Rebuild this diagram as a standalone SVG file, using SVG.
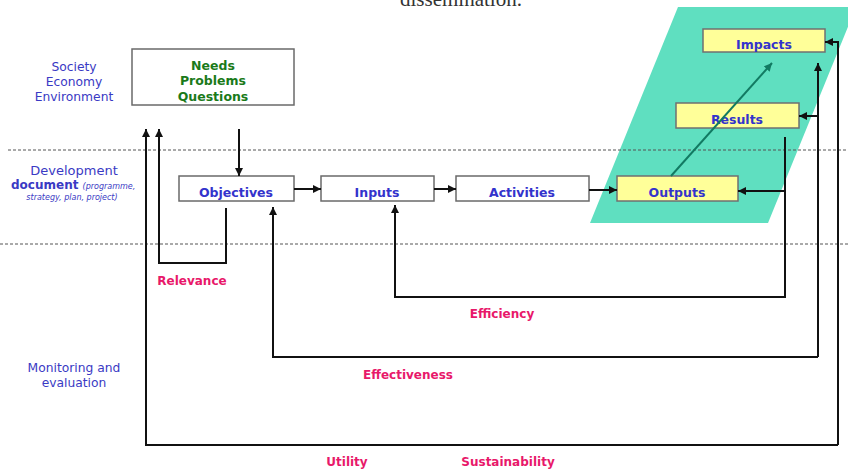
<svg xmlns="http://www.w3.org/2000/svg" width="848" height="470" viewBox="0 0 848 470">
<defs>
<marker id="ah" viewBox="0 0 10 10" refX="10" refY="5" markerWidth="8" markerHeight="8" markerUnits="userSpaceOnUse" orient="auto"><path d="M0,0 L10,5 L0,10 z" fill="#111"/></marker>
<marker id="aht" viewBox="0 0 10 10" refX="10" refY="5" markerWidth="8" markerHeight="8" markerUnits="userSpaceOnUse" orient="auto"><path d="M0,0 L10,5 L0,10 z" fill="#127a62"/></marker>
<style>
text{font-family:"DejaVu Sans","Liberation Sans",sans-serif;}
.lbl{fill:#3a3ac4;font-size:12.3px;text-anchor:middle;}
.node{fill:#fff;stroke:#6a6a6a;stroke-width:1.5;}
.ynode{fill:#ffff99;stroke:#707070;stroke-width:1.5;}
.nt{fill:#3333cc;font-size:12.5px;font-weight:bold;text-anchor:middle;}
.gt{fill:#1a7a1a;font-size:12.5px;font-weight:bold;text-anchor:middle;}
.crit{fill:#e8186a;font-size:12px;font-weight:bold;text-anchor:middle;}
.dash{stroke:#555;stroke-width:1;stroke-dasharray:3,2;fill:none;}
.c{fill:none;stroke:#111;stroke-width:2;}
.small{fill:#3a3ac4;font-size:8px;font-style:italic;font-weight:normal;}
</style>
</defs>
<rect width="848" height="470" fill="#fff"/>
<text x="461" y="6" fill="#333" text-anchor="middle" style="font-family:'Liberation Serif',serif;font-size:21px">dissemination.</text>
<polygon points="678,7 856,7 768,223 590,223" fill="#5fdfc0"/>
<line class="dash" x1="8" y1="150" x2="848" y2="150"/>
<line class="dash" x1="0" y1="244" x2="848" y2="244"/>
<g id="labels">
<text class="lbl" x="74" y="71">Society</text>
<text class="lbl" x="74" y="86">Economy</text>
<text class="lbl" x="74" y="101">Environment</text>
<text class="lbl" x="74" y="175" style="font-size:13px">Development</text>
<text x="11" y="189" style="fill:#3a3ac4;font-size:12px;font-weight:bold">document <tspan class="small">(programme,</tspan></text>
<text class="small" x="72" y="200" style="text-anchor:middle">strategy, plan, project)</text>
<text class="lbl" x="74" y="372">Monitoring and</text>
<text class="lbl" x="74" y="387">evaluation</text>
</g>
<g id="needs"><rect class="node" x="132" y="49" width="162" height="56"/>
<text class="gt" x="213" y="70">Needs</text><text class="gt" x="213" y="85">Problems</text><text class="gt" x="213" y="101">Questions</text></g>
<g id="objectives"><rect class="node" x="179" y="176" width="115" height="25"/><text class="nt" x="236" y="197">Objectives</text></g>
<g id="inputs"><rect class="node" x="321" y="176" width="113" height="25"/><text class="nt" x="377" y="197">Inputs</text></g>
<g id="activities"><rect class="node" x="456" y="176" width="133" height="25"/><text class="nt" x="522" y="197">Activities</text></g>
<g id="outputs"><rect class="ynode" x="617" y="176" width="121" height="25"/><text class="nt" x="677" y="197">Outputs</text></g>
<g id="results"><rect class="ynode" x="676" y="103" width="123" height="25"/><text class="nt" x="737" y="124">Results</text></g>
<g id="impacts"><rect class="ynode" x="703" y="29" width="122" height="23"/><text class="nt" x="764" y="49">Impacts</text></g>
<g id="connectors">
<path class="c" d="M239,129 L239,176" marker-end="url(#ah)"/>
<path class="c" d="M294,189 L321,189" marker-end="url(#ah)"/>
<path class="c" d="M434,189 L456,189" marker-end="url(#ah)"/>
<path class="c" d="M589,190 L617,190" marker-end="url(#ah)"/>
<path d="M671,176 L772,63" fill="none" stroke="#127a62" stroke-width="2" marker-end="url(#aht)"/>
<path class="c" d="M226,208 L226,263 L159,263 L159,129" marker-end="url(#ah)"/>
<path class="c" d="M785,137 L785,297 L395,297 L395,205" marker-end="url(#ah)"/>
<path class="c" d="M785,191 L738,191" marker-end="url(#ah)"/>
<path class="c" d="M818,357 L818,63" marker-end="url(#ah)"/>
<path class="c" d="M818,116 L799,116" marker-end="url(#ah)"/>
<path class="c" d="M818,357 L273,357 L273,207" marker-end="url(#ah)"/>
<path class="c" d="M838,445 L838,42 L825,42" marker-end="url(#ah)"/>
<path class="c" d="M838,445 L146,445 L146,129" marker-end="url(#ah)"/>
</g>
<g id="criteria">
<text class="crit" x="192" y="285">Relevance</text>
<text class="crit" x="502" y="318">Efficiency</text>
<text class="crit" x="408" y="379">Effectiveness</text>
<text class="crit" x="347" y="466">Utility</text>
<text class="crit" x="508" y="466">Sustainability</text>
</g>
</svg>
